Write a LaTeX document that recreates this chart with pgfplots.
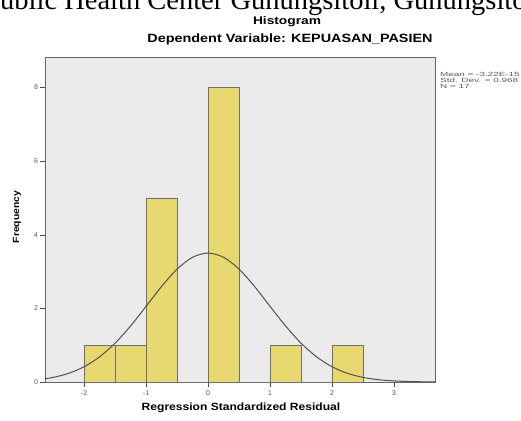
\documentclass[border=0pt]{standalone}
\usepackage{fontspec}
\setmainfont{Liberation Serif}
\setsansfont{Liberation Sans}
\usepackage{graphicx}
\usepackage{pgfplots}
\pgfplotsset{compat=1.18}
\definecolor{bgray}{RGB}{235,235,235}
\definecolor{baryel}{RGB}{231,217,112}
\definecolor{edgegray}{RGB}{110,110,110}
\definecolor{curvegray}{RGB}{80,80,80}
\definecolor{ticktext}{RGB}{90,90,90}
\newcommand{\sx}[2][1.25]{\scalebox{#1}[1]{#2}}
\begin{document}
\begin{tikzpicture}[x=1pt,y=1pt]
\path (0,0) rectangle (521,420);
% cropped serif text at the top (kept out of the bounding box)
\begin{pgfinterruptboundingbox}
\node[anchor=base west, inner sep=0pt] at (0,410.5) {\fontsize{28.5}{30}\selectfont\llap{P}ublic Health Center Gunungsitoli, Gunungsitoli};
\end{pgfinterruptboundingbox}
% titles
\node[font=\sffamily\bfseries\fontsize{11}{12}\selectfont] at (287,398.5) {\sx{Histogram}};
\node[font=\sffamily\bfseries\fontsize{12}{13}\selectfont] at (290,380.5) {\sx[1.2]{Dependent Variable: KEPUASAN\_PASIEN}};
% axis labels
\node[font=\sffamily\bfseries\fontsize{10.5}{12}\selectfont] at (241,12) {\sx[1.15]{Regression Standardized Residual}};
\node[font=\sffamily\bfseries\fontsize{9}{10}\selectfont, rotate=90] at (17,203) {\sx[1.15]{Frequency}};
% stats text
\begin{pgfinterruptboundingbox}
\node[anchor=north west, align=left, inner sep=0pt, font=\sffamily\fontsize{6}{6.5}\selectfont, text=ticktext] at (440,348)
  {\sx[1.65]{Mean = -3.22E-15}\\[-0.3pt]\sx[1.65]{Std. Dev. = 0.968}\\[-0.3pt]\sx[1.65]{N = 17}};
\end{pgfinterruptboundingbox}
\begin{axis}[
  at={(45pt,38pt)}, anchor=south west,
  scale only axis, width=390pt, height=325pt,
  xmin=-2.63, xmax=3.66, ymin=0, ymax=8.83,
  axis background/.style={fill=bgray},
  axis line style={draw=gray!80!black, line width=0.6pt},
  xtick={-2,-1,0,1,2,3}, ytick={0,2,4,6,8},
  tick align=outside, tick pos=left,
  major tick length=5pt,
  tick style={draw=gray!60!black, line width=0.5pt},
  ticklabel style={font=\sffamily\fontsize{7}{8}\selectfont, text=ticktext},
  /pgf/number format/assume math mode=true,
  xticklabel style={yshift=0pt},
  yticklabel style={xshift=1.5pt},
  clip=true,
]
\addplot[ybar interval, fill=baryel, draw=edgegray, line width=0.7pt] coordinates {
  (-2,1) (-1.5,1) (-1,5) (-0.5,0) (0,8) (0.5,0) (1,1) (1.5,0) (2,1) (2.5,0)
};
\addplot[smooth, no marks, draw=curvegray, line width=1pt] coordinates {
  (-3.0,0.0288) (-2.75,0.0619) (-2.5,0.1247) (-2.25,0.2351) (-2.0,0.4144)
  (-1.75,0.6835) (-1.5,1.054) (-1.25,1.522) (-1.0,2.055) (-0.75,2.595)
  (-0.5,3.066) (-0.25,3.388) (0,3.503) (0.25,3.388) (0.5,3.066)
  (0.75,2.595) (1.0,2.055) (1.25,1.522) (1.5,1.054) (1.75,0.6835)
  (2.0,0.4144) (2.25,0.2351) (2.5,0.1247) (2.75,0.0619) (3.0,0.0288)
  (3.25,0.0125) (3.5,0.0051) (3.75,0.0019)
};
\end{axis}
\end{tikzpicture}
\end{document}
